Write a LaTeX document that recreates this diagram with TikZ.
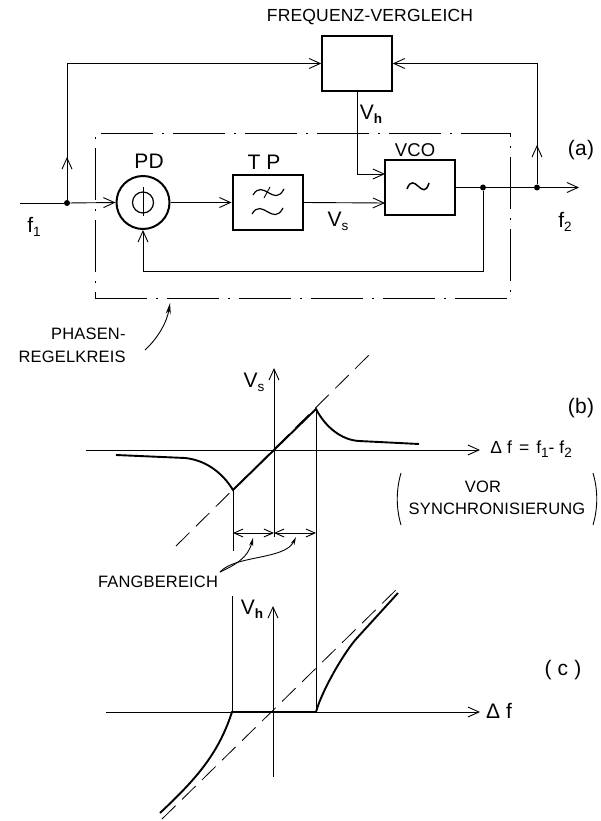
\documentclass[tikz,border=0pt]{standalone}
\usepackage{fontspec}
\setmainfont[LetterSpace=1]{Liberation Sans}
\usetikzlibrary{arrows.meta}
\newcommand{\lowidx}[1]{\raisebox{-4pt}{\fontsize{13.5}{13.5}\selectfont #1}}
\tikzset{
  >={Straight Barb[length=11pt,width=10pt]},
  block/.style={draw,line width=1.5pt,minimum width=70pt,minimum height=55pt,inner sep=0pt},
  lbl/.style={inner sep=0pt,font=\fontsize{17.5}{20}\selectfont},
  smalllbl/.style={inner sep=0pt,font=\fontsize{16.5}{19}\selectfont},
  biglbl/.style={inner sep=0pt,font=\fontsize{21}{24}\selectfont},
  dot/.style={circle,fill,inner sep=0pt,minimum size=6pt},
  thin line/.style={line width=0.9pt},
  curve/.style={line width=1.9pt},
  guide/.style={line width=0.8pt,dash pattern=on 19pt off 9pt},
  chainline/.style={draw,line width=1pt,dash pattern=on 52pt off 9pt on 2pt off 9pt},
}
\begin{document}
\begin{tikzpicture}[x=1pt,y=-1pt,every path/.append style={thin line}]
\useasboundingbox (0,0) rectangle (601,821);

% blocks
\node[block] (fvg) at (357,63.5) {};
\node[block,line width=2pt,minimum size=53pt,circle] (pd) at (143,202.5) {};
\node[block,line width=2pt] (tp) at (267.5,202.5) {};
\node[block] (vco) at (420,187.5) {};
\node[chainline,minimum width=415pt,minimum height=164pt,inner sep=0pt] (pll) at (302.5,216) {};

\node[lbl] (freq) at (370,17) {FREQUENZ-VERGLEICH};
\node[biglbl] (pdname) at (149,161) {PD};
\node[biglbl] (tpname) at (264,162) {T P};
\node[lbl,font=\fontsize{18.5}{20}\selectfont] (vconame) at (415,150) {VCO};
\node[biglbl] (parta) at (581,150) {(a)};
\node[biglbl] (vh) at (371,114) {V\lowidx{\textbf{h}}};
\node[biglbl] (vs) at (338,221) {V\lowidx{s}};
\node[biglbl] (f1) at (34,227) {f\lowidx{1}};
\node[biglbl] (f2) at (565,222) {f\lowidx{2}};

% inside the blocks
\draw[line width=1.2pt] (143,202.5) circle (10.5);
\draw (143,187)--(143,216);
\draw[line width=1.5pt] (407,189) .. controls (414,170) and (423,203) .. (429,183);
\foreach \y/\l in {192/253,211/252}{
\draw[line width=1.2pt] (\l,\y+3) .. controls (\l+10,\y-14) and (\l+21,\y+16) .. (\l+31,\y-3);
}
\draw (264,198)--(270,187);

% points on the lines
\node[dot] (d1) at (67,203) {};
\node[dot] (d2) at (537,187.5) {};
\node[dot] (d3) at (483,187.5) {};
\coordinate (fin) at (20,203);
\coordinate (fout) at (579,187.5);
\coordinate (upl) at (67,157);
\coordinate (upr) at (537,145);
\coordinate (vcoa) at (385,174);
\coordinate (vcob) at (385,203);
\coordinate (fbk) at (483,271);

\draw (fin)--(d1);
\draw[->] (d1)--(pd.west);
\draw[->] (pd.east)--(tp.west);
\draw[->] (tp.east)--(vcob);
\draw (vco.east)--(d3)--(d2);
\draw[->] (d2)--(fout);
\draw[->] (d3)--(fbk)-|(pd.south);
\draw[->] (fvg.south)|-(vcoa);
\draw[->] (d1)--(upl);
\draw[->] (d2)--(upr);
\draw[->] (d1)|-(fvg.west);
\draw[->] (d2)|-(fvg.east);

% arrow to the frame
\node[smalllbl,anchor=east] (phasen) at (126,334) {PHASEN-};
\node[smalllbl,anchor=east] (regel) at (126,357) {REGELKREIS};
\coordinate (pa) at (145,350);
\coordinate (pb) at (170,303);
\draw[-{Stealth[length=11pt,width=5pt]}] (pa) .. controls (158,338) and (167,322) .. (pb);

% plot b
\coordinate (bl) at (86,450);
\coordinate (br) at (480,450);
\coordinate (bt) at (274,368);
\coordinate (bb) at (274,537);
\coordinate (cu1) at (233,490);
\coordinate (cu2) at (316,409);
\coordinate (low1) at (233,551);
\coordinate (low2) at (316,712);
\draw[->] (bl)--(br);
\draw[->] (bb)--(bt);
\draw (cu1)--(low1);
\draw (cu2)--(low2);
\draw[guide] (176,546)--(371,353);
\draw[curve] (116,455)--(185,458) .. controls (205,460) and (222,472) .. (cu1) -- (cu2) .. controls (326,428) and (342,440) .. (359,441) -- (419,444);
\draw[{Straight Barb[length=9pt,width=8pt]}-{Straight Barb[length=9pt,width=8pt]}] (233,533)--(274,533);
\draw[{Straight Barb[length=9pt,width=8pt]}-{Straight Barb[length=9pt,width=8pt]}] (274,533)--(316,533);

\node[biglbl] (vsb) at (254,382) {V\lowidx{s}};
\node[biglbl] (partb) at (581,408) {(b)};
\node[lbl,anchor=west] (dfeq) at (490,449) {Δ f\hspace{7pt}=\hspace{7pt}f\lowidx{1}- f\lowidx{2}};
\node[smalllbl] (vor) at (483,487) {VOR};
\node[smalllbl] (sync) at (497,509) {SYNCHRONISIERUNG};
\draw (401,473) .. controls (396,490) and (396,508) .. (401,525);
\draw (593,473) .. controls (598,490) and (598,508) .. (593,525);

\node[smalllbl] (fang) at (158,582) {FANGBEREICH};
\coordinate (fa) at (220,572);
\coordinate (fb) at (253,538);
\coordinate (fc) at (296,537);
\draw[-{Stealth[length=8pt,width=4pt]}] (fa) .. controls (235,565) and (248,558) .. (fb);
\draw[-{Stealth[length=8pt,width=4pt]}] (fa) .. controls (235,555) and (285,560) .. (fc);

% plot c
\coordinate (cl) at (106,712);
\coordinate (cr) at (480,712);
\coordinate (ct) at (273,606);
\coordinate (cb) at (273,777);
\coordinate (up1) at (232,596);
\coordinate (flat1) at (232,712);
\coordinate (flat2) at (316,712);
\draw[->] (cl)--(cr);
\draw[->] (cb)--(ct);
\draw (up1)--(flat1);
\draw[guide] (162,819)--(401,585);
\draw[curve] (160,813) .. controls (195,780) and (218,755) .. (flat1) -- (flat2) .. controls (322,690) and (345,651) .. (357,638) -- (398,593);

\node[biglbl] (vhc) at (252,609) {V\lowidx{\textbf{h}}};
\node[biglbl] (partc) at (563,670) {( c )};
\node[biglbl] (dfc) at (499,711) {Δ f};
\end{tikzpicture}
\end{document}
